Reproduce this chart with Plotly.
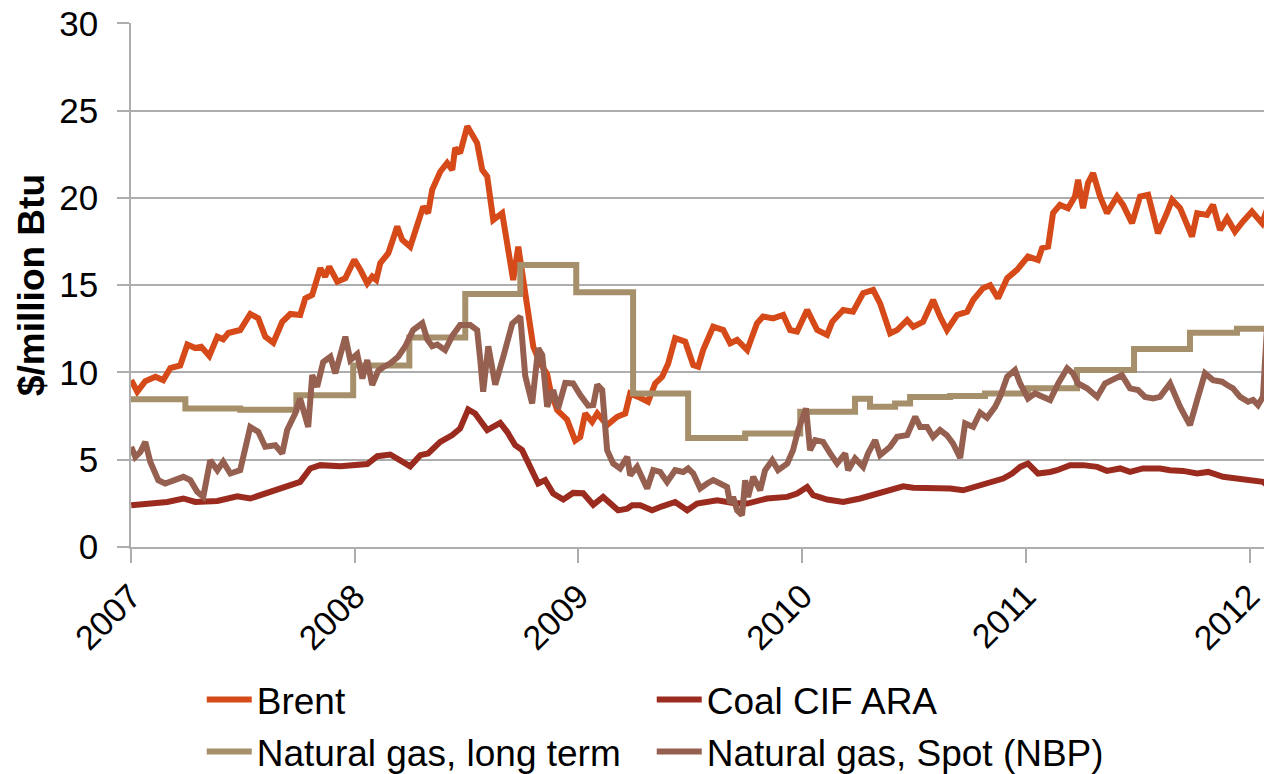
import plotly.graph_objects as go

# ---- Brent ($/million Btu) ----
brent_t = [2007.001, 2007.028, 2007.064, 2007.109, 2007.144, 2007.176, 2007.220, 2007.252, 2007.287, 2007.314,
           2007.350, 2007.386, 2007.412, 2007.435, 2007.488, 2007.533, 2007.569, 2007.600, 2007.636, 2007.676,
           2007.712, 2007.756, 2007.779, 2007.810, 2007.846, 2007.868, 2007.886, 2007.922, 2007.958, 2007.998,
           2008.025, 2008.056, 2008.078, 2008.096, 2008.114, 2008.150, 2008.190, 2008.212, 2008.248, 2008.279,
           2008.306, 2008.328, 2008.346, 2008.382, 2008.413, 2008.436, 2008.449, 2008.471, 2008.503, 2008.547,
           2008.570, 2008.592, 2008.619, 2008.659, 2008.686, 2008.708, 2008.731, 2008.753, 2008.775, 2008.798,
           2008.829, 2008.860, 2008.874, 2008.905, 2008.949, 2008.985, 2009.008, 2009.030, 2009.061, 2009.084,
           2009.128, 2009.173, 2009.209, 2009.231, 2009.267, 2009.311, 2009.343, 2009.374, 2009.401, 2009.432,
           2009.477, 2009.513, 2009.535, 2009.557, 2009.602, 2009.647, 2009.678, 2009.709, 2009.754, 2009.798,
           2009.825, 2009.870, 2009.915, 2009.946, 2009.977, 2010.022, 2010.067, 2010.111, 2010.134, 2010.183,
           2010.227, 2010.272, 2010.317, 2010.348, 2010.393, 2010.424, 2010.469, 2010.496, 2010.540, 2010.585,
           2010.616, 2010.647, 2010.692, 2010.737, 2010.764, 2010.808, 2010.840, 2010.875, 2010.916, 2010.960,
           2011.009, 2011.054, 2011.072, 2011.099, 2011.121, 2011.152, 2011.188, 2011.219, 2011.233, 2011.255,
           2011.277, 2011.300, 2011.331, 2011.362, 2011.407, 2011.434, 2011.474, 2011.510, 2011.546, 2011.590,
           2011.630, 2011.653, 2011.689, 2011.742, 2011.765, 2011.809, 2011.836, 2011.867, 2011.899, 2011.934,
           2011.970, 2012.010, 2012.055, 2012.077, 2012.100]
brent_v = [9.56, 8.9, 9.5, 9.75, 9.56, 10.25, 10.4, 11.6, 11.4, 11.47,
           10.95, 12.05, 11.9, 12.26, 12.43, 13.35, 13.1, 12.05, 11.7, 12.9,
           13.35, 13.29, 14.25, 14.44, 15.97, 15.49, 16.06, 15.2, 15.4, 16.45,
           15.88, 15.11, 15.49, 15.3, 16.26, 16.83, 18.36, 17.6, 17.2, 18.46,
           19.5, 19.13, 20.46, 21.5, 22.0, 21.6, 22.86, 22.57, 24.1, 23.14,
           21.6, 21.23, 18.74, 19.13, 17.2, 15.3, 17.2, 15.11, 13.39, 11.47,
           10.52, 9.9, 9.0, 7.84, 7.3, 6.1, 6.31, 7.65, 7.17, 7.65,
           6.98, 7.46, 7.65, 8.8, 8.6, 8.32, 9.37, 9.75, 10.52, 11.96,
           11.76, 10.42, 10.33, 11.28, 12.62, 12.43, 11.67, 11.86, 11.28, 12.82,
           13.2, 13.1, 13.29, 12.43, 12.34, 13.58, 12.43, 12.15, 12.9, 13.58,
           13.48, 14.54, 14.73, 13.96, 12.24, 12.43, 13.0, 12.62, 12.9, 14.15,
           13.2, 12.43, 13.29, 13.48, 14.15, 14.83, 15.0, 14.25, 15.4, 15.88,
           16.64, 16.45, 17.12, 17.21, 19.13, 19.6, 19.41, 20.08, 21.04, 19.41,
           20.85, 21.42, 20.08, 19.13, 20.08, 19.6, 18.55, 20.08, 20.18, 17.98,
           19.13, 19.89, 19.41, 17.79, 19.13, 19.03, 19.6, 18.17, 18.84, 18.07,
           18.65, 19.22, 18.55, 19.32, 20.46]

# ---- Coal CIF ARA ----
coal_t = [2007.001, 2007.086, 2007.162, 2007.234, 2007.287, 2007.386, 2007.475, 2007.533, 2007.622, 2007.681,
          2007.756, 2007.801, 2007.846, 2007.935, 2007.993, 2008.056, 2008.101, 2008.159, 2008.248, 2008.293,
          2008.328, 2008.382, 2008.436, 2008.471, 2008.507, 2008.538, 2008.592, 2008.650, 2008.681, 2008.717,
          2008.748, 2008.784, 2008.820, 2008.851, 2008.887, 2008.932, 2008.976, 2009.021, 2009.066, 2009.110,
          2009.177, 2009.218, 2009.240, 2009.276, 2009.329, 2009.374, 2009.432, 2009.486, 2009.530, 2009.620,
          2009.691, 2009.754, 2009.843, 2009.933, 2009.977, 2010.022, 2010.049, 2010.111, 2010.183, 2010.259,
          2010.335, 2010.406, 2010.451, 2010.496, 2010.585, 2010.661, 2010.719, 2010.808, 2010.898, 2010.938,
          2010.974, 2011.009, 2011.054, 2011.108, 2011.139, 2011.197, 2011.255, 2011.318, 2011.362, 2011.421,
          2011.465, 2011.523, 2011.599, 2011.644, 2011.702, 2011.765, 2011.814, 2011.881, 2011.943, 2012.010,
          2012.059, 2012.100]
coal_v = [2.39, 2.52, 2.58, 2.78, 2.58, 2.64, 2.91, 2.78, 3.16, 3.35,
          3.73, 4.5, 4.69, 4.62, 4.71, 4.75, 5.2, 5.3, 4.62, 5.26,
          5.36, 6.02, 6.41, 6.79, 7.88, 7.65, 6.7, 7.11, 6.6, 5.83,
          5.55, 4.59, 3.64, 3.83, 3.06, 2.72, 3.1, 3.08, 2.42, 2.87,
          2.1, 2.2, 2.39, 2.39, 2.1, 2.33, 2.58, 2.1, 2.49, 2.68,
          2.52, 2.49, 2.78, 2.87, 3.06, 3.44, 2.97, 2.72, 2.58, 2.78,
          3.06, 3.35, 3.48, 3.39, 3.39, 3.35, 3.25, 3.54, 3.92, 4.21,
          4.59, 4.78, 4.21, 4.30, 4.4, 4.69, 4.69, 4.59, 4.36, 4.5,
          4.3, 4.5, 4.5, 4.4, 4.36, 4.21, 4.30, 4.02, 3.92, 3.73,
          3.73, 3.35]

# ---- Natural gas, long term (quarterly steps) ----
ltgas_t = [2007.0, 2007.243, 2007.488, 2007.739, 2007.993, 2008.244, 2008.494, 2008.740, 2008.990, 2009.244,
           2009.490, 2009.745, 2009.991, 2010.236, 2010.303, 2010.415, 2010.482, 2010.661, 2010.817, 2011.009,
           2011.228, 2011.483, 2011.733, 2011.943, 2012.068]
ltgas_v = [8.46, 7.94, 7.86, 8.7, 10.4, 12.0, 14.5, 16.16, 14.6, 8.8,
           6.25, 6.5, 7.75, 8.5, 8.03, 8.22, 8.6, 8.65, 8.8, 9.1,
           10.14, 11.34, 12.28, 12.5, 12.5]

# ---- Natural gas, Spot (NBP) ----
spot_t = [2007.001, 2007.019, 2007.042, 2007.064, 2007.086, 2007.122, 2007.153, 2007.198, 2007.234, 2007.265,
          2007.296, 2007.323, 2007.354, 2007.386, 2007.412, 2007.444, 2007.488, 2007.533, 2007.569, 2007.600,
          2007.645, 2007.676, 2007.698, 2007.734, 2007.756, 2007.779, 2007.792, 2007.810, 2007.832, 2007.859,
          2007.891, 2007.913, 2007.958, 2007.980, 2008.011, 2008.034, 2008.056, 2008.078, 2008.105, 2008.127,
          2008.159, 2008.194, 2008.226, 2008.261, 2008.302, 2008.324, 2008.346, 2008.369, 2008.404, 2008.436,
          2008.471, 2008.516, 2008.547, 2008.561, 2008.574, 2008.597, 2008.628, 2008.664, 2008.704, 2008.740,
          2008.762, 2008.793, 2008.820, 2008.838, 2008.860, 2008.887, 2008.909, 2008.941, 2008.976, 2009.008,
          2009.043, 2009.066, 2009.084, 2009.106, 2009.128, 2009.155, 2009.186, 2009.218, 2009.231, 2009.262,
          2009.307, 2009.334, 2009.365, 2009.396, 2009.432, 2009.468, 2009.490, 2009.513, 2009.544, 2009.575,
          2009.602, 2009.633, 2009.664, 2009.678, 2009.691, 2009.709, 2009.731, 2009.745, 2009.758, 2009.781,
          2009.812, 2009.834, 2009.866, 2009.892, 2009.933, 2009.959, 2009.982, 2010.017, 2010.035, 2010.058,
          2010.093, 2010.125, 2010.156, 2010.192, 2010.205, 2010.236, 2010.272, 2010.294, 2010.326, 2010.348,
          2010.393, 2010.424, 2010.469, 2010.505, 2010.527, 2010.558, 2010.585, 2010.616, 2010.647, 2010.674,
          2010.706, 2010.728, 2010.764, 2010.795, 2010.826, 2010.862, 2010.884, 2010.916, 2010.951, 2010.974,
          2011.009, 2011.041, 2011.072, 2011.108, 2011.144, 2011.184, 2011.210, 2011.233, 2011.273, 2011.318,
          2011.353, 2011.389, 2011.429, 2011.465, 2011.501, 2011.532, 2011.568, 2011.599, 2011.644, 2011.689,
          2011.733, 2011.769, 2011.800, 2011.836, 2011.876, 2011.899, 2011.925, 2011.957, 2011.993, 2012.015,
          2012.037, 2012.059, 2012.082, 2012.100]
spot_v = [5.74, 5.16, 5.45, 6.02, 4.88, 3.83, 3.64, 3.83, 4.02, 3.83,
          3.16, 2.87, 4.97, 4.4, 4.88, 4.21, 4.4, 6.88, 6.6, 5.74,
          5.83, 5.36, 6.7, 7.65, 8.51, 7.46, 6.88, 9.85, 9.18, 10.6,
          10.9, 9.95, 12.05, 10.71, 11.05, 9.65, 10.71, 9.28, 10.1, 10.3,
          10.52, 10.9, 11.5, 12.43, 12.82, 11.9, 11.5, 11.6, 11.28, 12.1,
          12.72, 12.72, 12.43, 10.71, 8.9, 11.5, 9.3, 10.9, 12.8, 13.2,
          9.8, 8.22, 11.38, 11.0, 8.03, 8.99, 7.94, 9.4, 9.37, 8.7,
          8.1, 8.13, 9.3, 8.99, 5.55, 4.78, 4.5, 5.16, 4.11, 4.59,
          3.35, 4.4, 4.3, 3.73, 4.4, 4.3, 4.5, 4.21, 3.35, 3.64,
          3.83, 3.64, 3.44, 2.49, 2.87, 2.1, 1.82, 3.83, 2.87, 4.02,
          3.25, 4.4, 4.97, 4.4, 4.78, 5.55, 6.7, 7.94, 5.55, 6.12,
          6.02, 5.36, 4.78, 5.36, 4.4, 5.07, 4.59, 5.36, 6.12, 5.26,
          5.74, 6.31, 6.41, 7.46, 6.88, 6.88, 6.31, 6.7, 6.4, 5.93,
          5.1, 7.08, 6.88, 7.7, 7.4, 8.03, 8.6, 9.75, 10.14, 9.37,
          8.51, 8.8, 8.6, 8.42, 9.37, 10.24, 9.95, 9.37, 9.09, 8.6,
          9.37, 9.56, 9.85, 9.09, 8.99, 8.6, 8.51, 8.6, 9.37, 8.03,
          6.98, 8.6, 9.95, 9.56, 9.47, 9.28, 9.09, 8.6, 8.32, 8.42,
          8.13, 8.6, 13.58, 13.77]

year_ticks = [2007, 2008, 2009, 2010, 2011, 2012]
year_labels = ["2007", "2008", "2009", "2010", "2011", "2012"]
y_ticks = [0, 5, 10, 15, 20, 25, 30]

FONT = "Liberation Sans, Arial, sans-serif"
LW = 6
GRID = "#ADADAD"

fig = go.Figure()
fig.add_trace(go.Scatter(x=brent_t, y=brent_v, mode="lines", name="Brent",
                         line=dict(color="#D54A18", width=LW), legend="legend"))
fig.add_trace(go.Scatter(x=coal_t, y=coal_v, mode="lines", name="Coal CIF ARA",
                         line=dict(color="#9B2B1E", width=LW), legend="legend"))
fig.add_trace(go.Scatter(x=ltgas_t, y=ltgas_v, mode="lines", name="Natural gas, long term",
                         line=dict(color="#A68F6B", width=LW, shape="hv"), legend="legend2"))
fig.add_trace(go.Scatter(x=spot_t, y=spot_v, mode="lines", name="Natural gas, Spot (NBP)",
                         line=dict(color="#966050", width=LW), legend="legend2"))

legend_common = dict(orientation="h", xanchor="left", yanchor="middle",
                     font=dict(family=FONT, size=37, color="black"),
                     itemwidth=45, entrywidth=390, entrywidthmode="pixels",
                     bgcolor="rgba(0,0,0,0)", itemclick=False, itemdoubleclick=False)

# The page body has an 8px margin, so the figure is sized and offset to compensate.
fig.update_layout(
    width=1264, height=766,
    margin=dict(l=123, r=0, t=15, b=227, autoexpand=False),
    paper_bgcolor="white", plot_bgcolor="white",
    font=dict(family=FONT, color="black"),
    showlegend=True,
    legend=dict(x=0.062, y=-0.292, **legend_common),
    legend2=dict(x=0.062, y=-0.391, **legend_common),
    xaxis=dict(range=[2007.0, 2012.0996], tickvals=year_ticks, ticktext=year_labels,
               tickangle=-45, tickfont=dict(family=FONT, size=34, color="black"),
               showgrid=False, zeroline=False, showline=True, linecolor=GRID, linewidth=1.5,
               ticks="outside", ticklen=14, tickwidth=1.5, tickcolor=GRID, automargin=False,
               ticklabeloverflow="allow"),
    yaxis=dict(range=[0, 30.02], tickvals=y_ticks,
               tickfont=dict(family=FONT, size=35, color="black"),
               showgrid=True, gridcolor=GRID, gridwidth=1.5, zeroline=False,
               showline=True, linecolor=GRID, linewidth=1.5,
               ticks="outside", ticklen=12, tickwidth=1.5, tickcolor=GRID,
               ticklabelstandoff=12, automargin=False, ticklabeloverflow="allow",
               title=dict(text="<b>$/million Btu</b>", font=dict(family=FONT, size=37, color="black"),
                          standoff=3)),
)

fig.write_html("out.html")
